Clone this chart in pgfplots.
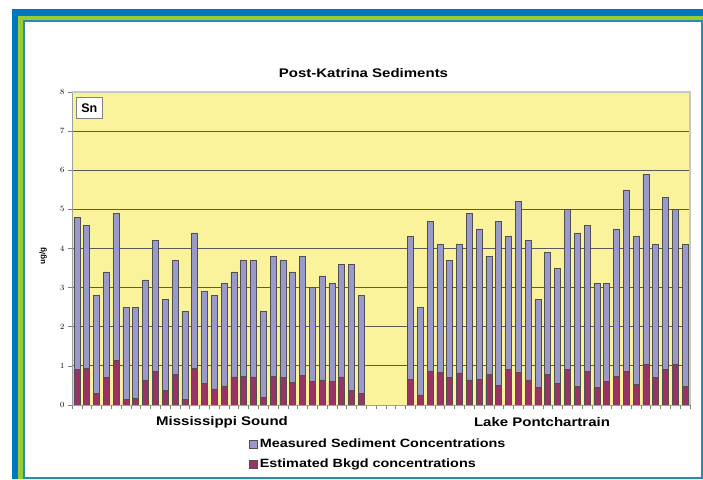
\documentclass[border=0pt]{standalone}
\usepackage{pgfplots}
\pgfplotsset{compat=1.18}
\usepackage{pgfplotstable}
\usepackage{fontspec}
\setmainfont{Liberation Sans}

\definecolor{frameblue}{RGB}{0,118,190}
\definecolor{framegreen}{RGB}{153,204,51}
\definecolor{frameline}{RGB}{40,140,175}
\definecolor{plotbg}{RGB}{250,243,155}
\definecolor{meas}{RGB}{153,153,204}
\definecolor{bkgd}{RGB}{153,51,102}
\definecolor{barline}{RGB}{80,80,80}
\definecolor{gridc}{RGB}{90,90,90}

\newcommand\wt[1]{\scalebox{1.2}[1]{#1}}

\pgfplotsset{sqlegend/.style={legend image code/.code={\draw[##1] (0pt,-4pt) rectangle (8pt,4pt);}}}

% x = category position; Mississippi Sound 0-29, gap 30-33, Lake Pontchartrain 34-62
\pgfplotstableread{
x meas bkgd
0.5 4.8 0.90
1.5 4.6 0.94
2.5 2.8 0.30
3.5 3.4 0.71
4.5 4.9 1.15
5.5 2.5 0.15
6.5 2.5 0.18
7.5 3.2 0.64
8.5 4.2 0.86
9.5 2.7 0.37
10.5 3.7 0.78
11.5 2.4 0.15
12.5 4.4 0.93
13.5 2.9 0.56
14.5 2.8 0.41
15.5 3.1 0.49
16.5 3.4 0.72
17.5 3.7 0.74
18.5 3.7 0.72
19.5 2.4 0.19
20.5 3.8 0.74
21.5 3.7 0.71
22.5 3.4 0.57
23.5 3.8 0.75
24.5 3.0 0.60
25.5 3.3 0.64
26.5 3.1 0.60
27.5 3.6 0.72
28.5 3.6 0.37
29.5 2.8 0.30
34.5 4.3 0.66
35.5 2.5 0.26
36.5 4.7 0.87
37.5 4.1 0.83
38.5 3.7 0.71
39.5 4.1 0.82
40.5 4.9 0.64
41.5 4.5 0.66
42.5 3.8 0.78
43.5 4.7 0.51
44.5 4.3 0.90
45.5 5.2 0.83
46.5 4.2 0.64
47.5 2.7 0.44
48.5 3.9 0.78
49.5 3.5 0.55
50.5 5.0 0.92
51.5 4.4 0.48
52.5 4.6 0.86
53.5 3.1 0.44
54.5 3.1 0.60
55.5 4.5 0.74
56.5 5.5 0.86
57.5 4.3 0.52
58.5 5.9 1.04
59.5 4.1 0.71
60.5 5.3 0.90
61.5 5.0 1.04
62.5 4.1 0.48
}\sediments

\begin{document}
\begin{tikzpicture}[x=1pt,y=1pt]
\useasboundingbox (0,0) rectangle (703,479);
% frame
\fill[white] (0,0) rectangle (703,479);
\fill[frameblue] (12,0) rectangle (703,470);
\fill[framegreen] (18.3,0) rectangle (703,463.3);
\fill[frameline] (22.7,0) rectangle (703,459);
\fill[white] (24.7,1.5) rectangle (701.5,457);
\draw[frameline, line width=0.8] (701.5,457) -- (701.5,1.5) -- (24.7,1.5);

\begin{axis}[
    at={(72pt,74pt)}, anchor=origin,
    scale only axis, width=618pt, height=313pt,
    xmin=0, xmax=63, ymin=0, ymax=8,
    ytick={0,...,8}, xtick={0,...,63}, xticklabels={},
    xtick pos=left, ytick pos=left,
    tick align=outside, major tick length=4pt,
    tick style={draw=gray, line width=0.6pt},
    ymajorgrids, grid style={draw=gridc, line width=0.9pt},
    axis background/.style={fill=plotbg},
    axis line style={draw=none},
    yticklabel style={font=\fontsize{8.5}{9}\selectfont\bfseries},
    legend style={at={(axis description cs:0.2864,-0.1016)}, anchor=north west,
        draw=none, fill=none, inner sep=0pt, row sep=6pt,
        font=\fontsize{12}{13}\selectfont\bfseries, cells={anchor=west}},
]
\addplot[ybar, bar width=6pt, bar shift=0pt, fill=meas, draw=barline, line width=0.6pt, sqlegend]
    table[x=x, y=meas] {\sediments};
\addlegendentry{\wt{Measured Sediment Concentrations}}
\addplot[ybar, bar width=6pt, bar shift=0pt, fill=bkgd, draw=barline, line width=0.6pt, sqlegend]
    table[x=x, y=bkgd] {\sediments};
\addlegendentry{\wt{Estimated Bkgd concentrations}}
\end{axis}

% plot border
\draw[gray!75, line width=0.8] (72,387) -- (72,74) -- (690,74);
\draw[black!22, line width=1.3] (72,387) -- (690,387) -- (690,74);

% texts
\node[font=\fontsize{12.5}{14}\selectfont\bfseries] at (363.5,406) {\wt{Post-Katrina Sediments}};
\node[rotate=90, font=\fontsize{8}{9}\selectfont\bfseries] at (43,223) {ug/g};
\node[font=\fontsize{12.5}{14}\selectfont\bfseries] at (222,57) {\wt{Mississippi Sound}};
\node[font=\fontsize{12.5}{14}\selectfont\bfseries] at (542,57) {\wt{Lake Pontchartrain}};
\node[draw=gray, fill=white, line width=0.8, minimum width=26.7, minimum height=21,
      inner sep=0pt, font=\fontsize{12.5}{14}\selectfont\bfseries] at (89.3,371.2) {Sn};
\end{tikzpicture}
\end{document}
